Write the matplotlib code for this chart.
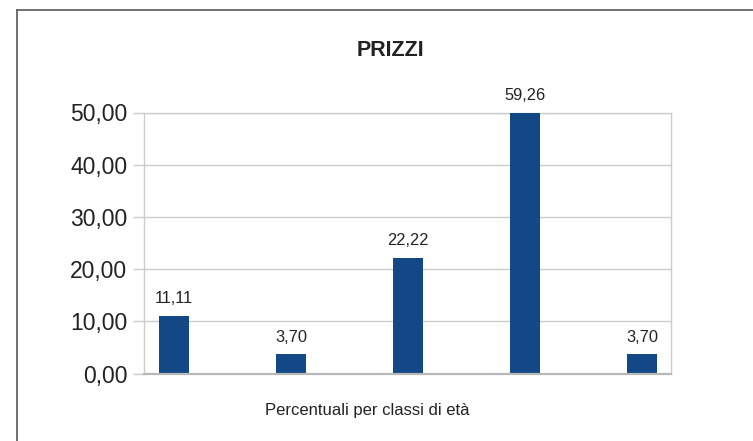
import matplotlib
matplotlib.use('Agg')
import matplotlib.pyplot as plt
from matplotlib.lines import Line2D

# data
categories = ['1', '2', '3', '4', '5']
values = [11.11, 3.70, 22.22, 59.26, 3.70]
labels = ['11,11', '3,70', '22,22', '59,26', '3,70']
yticks = [0, 10, 20, 30, 40, 50]
ytick_labels = ['0,00', '10,00', '20,00', '30,00', '40,00', '50,00']

plt.rcParams['font.family'] = ['Liberation Sans', 'DejaVu Sans']

bar_color = '#134886'
grid_color = '#cccccc'
text_color = '#222222'

W, H = 753, 441
fig = plt.figure(figsize=(W/100, H/100), dpi=100)
ax = fig.add_axes([144.3/W, 1 - 373.5/H, 526.4/W, 261/H])

x = list(range(len(categories)))
ax.bar(x, values, width=0.256, color=bar_color, zorder=3)
for xi, v, lab in zip(x, values, labels):
    # value labels sit just above the (clipped) bar top
    ax.annotate(lab, (xi, min(v, 50)), xytext=(0, 8.8), textcoords='offset points',
                ha='center', va='baseline', fontsize=11.8, color=text_color,
                annotation_clip=False)

ax.set_xlim(-0.254, 4.245)
ax.set_ylim(0, 50)
ax.set_yticks(yticks)
ax.set_yticklabels(ytick_labels, fontsize=16.5, color=text_color)
ax.set_xticks([])
ax.tick_params(axis='y', length=8, color=grid_color, width=1, pad=4.3)
ax.grid(axis='y', color=grid_color, linewidth=1, zorder=0)
for side in ['left', 'right', 'top']:
    ax.spines[side].set_color(grid_color)
    ax.spines[side].set_linewidth(1)
ax.spines['bottom'].set_color('#b8b8b8')
ax.spines['bottom'].set_linewidth(1.6)
ax.spines['bottom'].set_zorder(4)

fig.text(390.5/W, 1 - 50.5/H, 'PRIZZI', ha='center', va='center',
         fontsize=15.5, fontweight='bold', color=text_color)
fig.text(367.5/W, 1 - 411/H, 'Percentuali per classi di età', ha='center',
         va='center', fontsize=12, color=text_color)

# outer chart frame (only left and top edges are visible)
fig.add_artist(Line2D([16.5/W, 16.5/W], [0, 1 - 10/H], color='#666666', linewidth=1.3))
fig.add_artist(Line2D([16.5/W, 1], [1 - 10/H, 1 - 10/H], color='#666666', linewidth=1.3))

fig.savefig('out.png', dpi=100)
